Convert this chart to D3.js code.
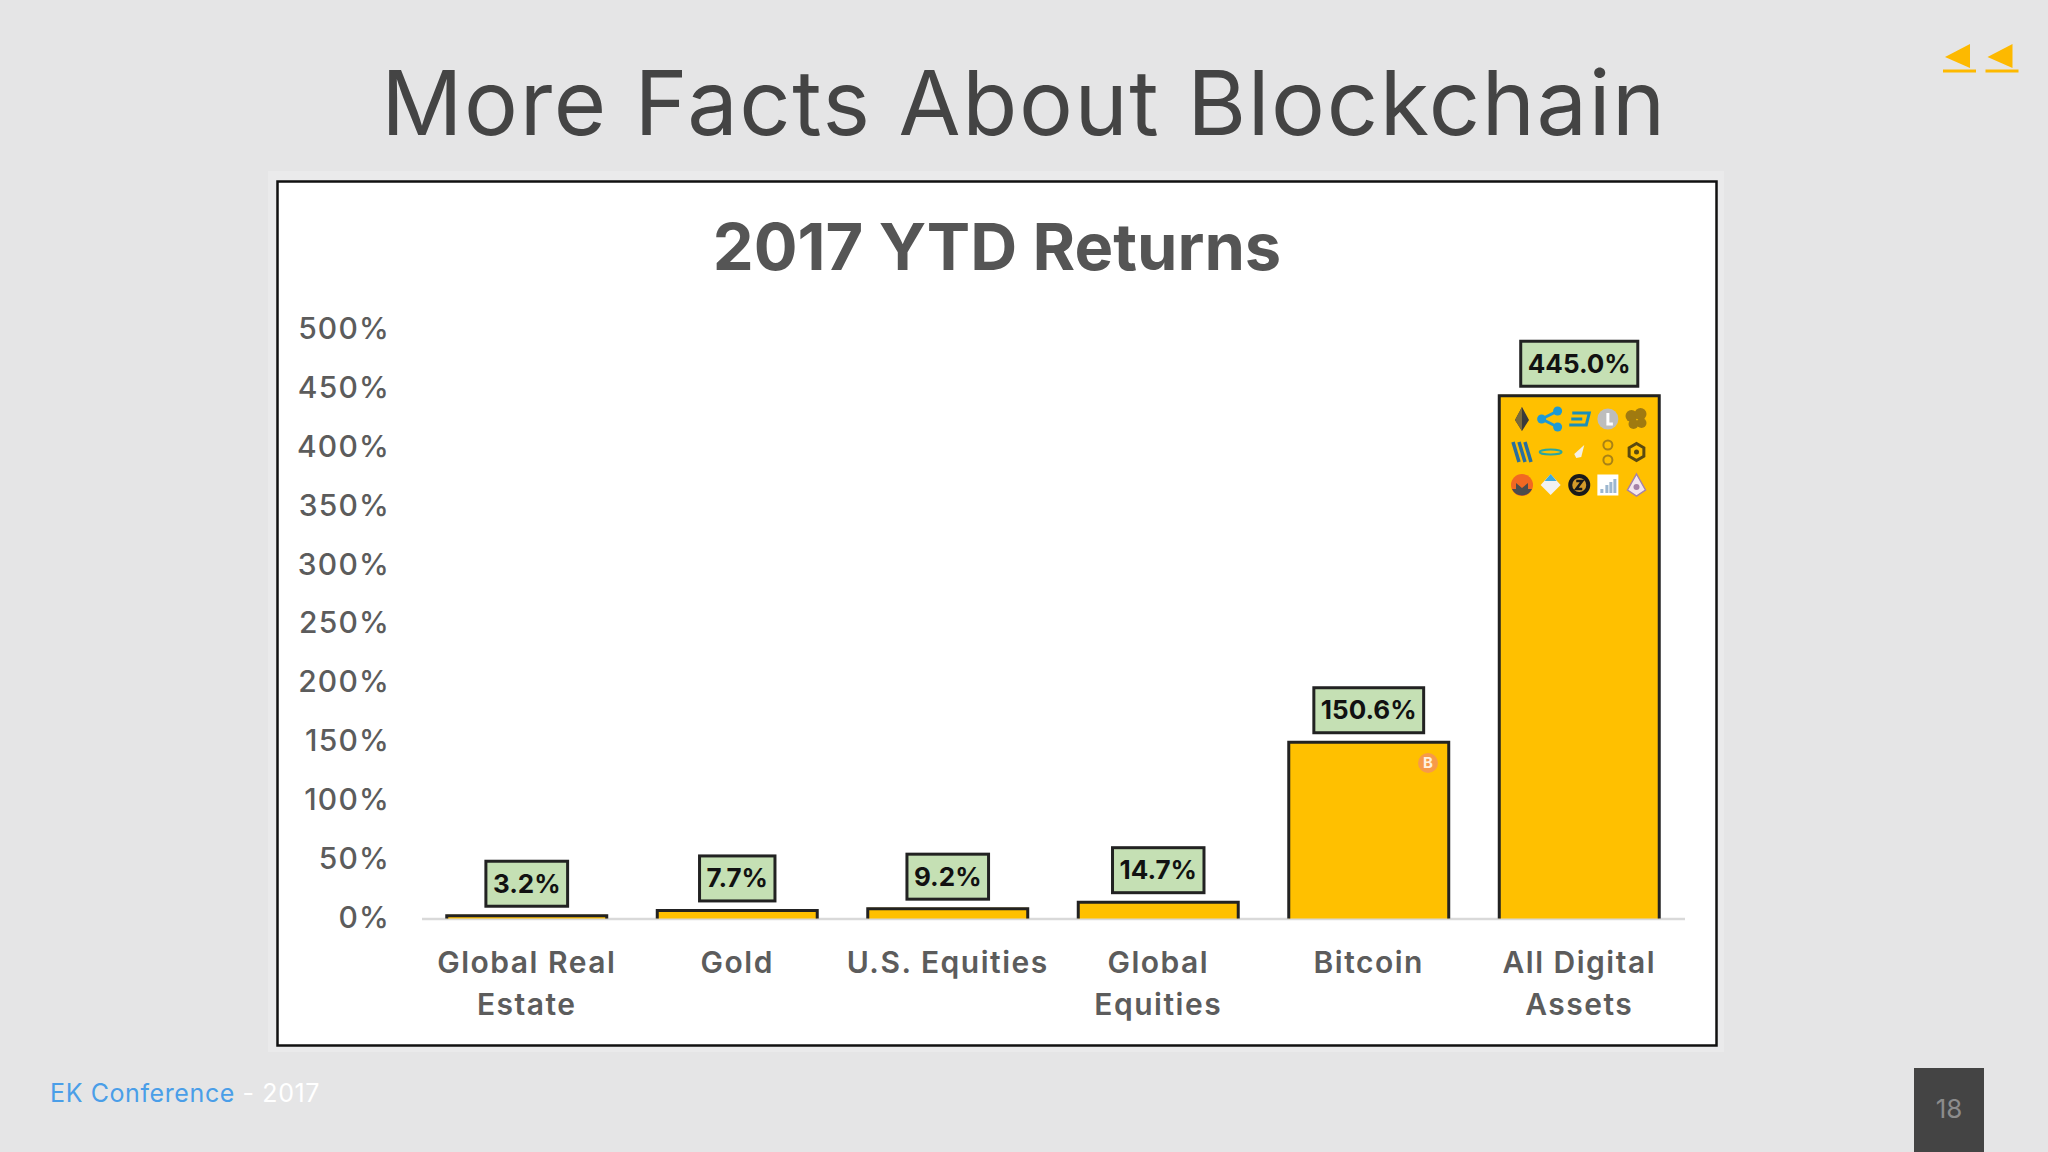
<!DOCTYPE html>
<html>
<head>
<meta charset="utf-8">
<style>
  html, body { margin: 0; padding: 0; background: #e5e5e6; overflow: hidden; }
  svg { display: block; }
  text { font-family: Inter, Lato, sans-serif; }
</style>
</head>
<body>
<svg id="slide"></svg>
<script src="https://d3js.org/d3.v7.min.js"></script>
<script>
var width = 2048, height = 1152;

var categories = ["Global Real Estate", "Gold", "U.S. Equities", "Global Equities", "Bitcoin", "All Digital Assets"];
var categoryLines = [["Global Real", "Estate"], ["Gold"], ["U.S. Equities"], ["Global", "Equities"], ["Bitcoin"], ["All Digital", "Assets"]];
var returns = [3.2, 7.7, 9.2, 14.7, 150.6, 445.0];
var yTicks = [0, 50, 100, 150, 200, 250, 300, 350, 400, 450, 500];
var iconRows = [
  ["eth", "xrp", "dash", "ltc", "nem"],
  ["steem", "lisk", "rocket", "gnt", "hex"],
  ["xmr", "ice", "zec", "chart", "pear"]
];

var svg = d3.select("#slide").attr("width", width).attr("height", height);

svg.append("rect").attr("width", width).attr("height", height).attr("fill", "#e5e5e6");

// slide furniture
svg.append("text")
  .attr("x", 1024).attr("y", 135)
  .attr("text-anchor", "middle")
  .attr("font-size", 90)
  .attr("letter-spacing", 1.6)
  .attr("fill", "#444444")
  .text("More Facts About Blockchain");

[0, 42.5].forEach(function (dx) {
  var nav = svg.append("g").attr("transform", "translate(" + dx + ",0)");
  nav.append("path").attr("d", "M1945,57L1970,44L1970,68Z").attr("fill", "#fdb900");
  nav.append("rect").attr("x", 1943).attr("y", 69.5).attr("width", 33).attr("height", 3).attr("fill", "#fdb900");
});

var footer = svg.append("text").attr("x", 50).attr("y", 1102).attr("font-size", 25).attr("letter-spacing", 0.6);
footer.append("tspan").attr("fill", "#4a9ee8").text("EK Conference");
footer.append("tspan").attr("fill", "#ffffff").text(" - 2017");

svg.append("rect").attr("x", 1914).attr("y", 1068).attr("width", 70).attr("height", 84).attr("fill", "#444444");
svg.append("text")
  .attr("x", 1949).attr("y", 1118)
  .attr("text-anchor", "middle")
  .attr("font-size", 26)
  .attr("fill", "#8c8c8c")
  .text("18");

// picture frame
svg.append("rect").attr("x", 268).attr("y", 171).attr("width", 1456).attr("height", 881).attr("fill", "#eaeaeb");
svg.append("rect").attr("x", 277.5).attr("y", 181.5).attr("width", 1439).attr("height", 864)
  .attr("fill", "#ffffff").attr("stroke", "#111111").attr("stroke-width", 2.5);

svg.append("text")
  .attr("x", 997).attr("y", 270)
  .attr("text-anchor", "middle")
  .attr("font-size", 65)
  .attr("font-weight", 700)
  .attr("fill", "#555555")
  .text("2017 YTD Returns");

var x = d3.scaleBand()
  .domain(categories)
  .range([421.5, 1684.5])
  .paddingInner(0.24)
  .paddingOuter(0.12);

var y = d3.scaleLinear()
  .domain([0, 500])
  .range([918.5, 330]);

var yAxis = svg.append("g")
  .attr("transform", "translate(390,0)")
  .call(d3.axisLeft(y).tickValues(yTicks).tickSize(0).tickPadding(0).tickFormat(function (d) { return d + "%"; }));
yAxis.select(".domain").remove();
yAxis.selectAll("text")
  .attr("y", -1)
  .attr("font-size", 30)
  .attr("font-weight", 500)
  .attr("font-family", "Inter")
  .attr("letter-spacing", 1.2)
  .attr("fill", "#5c5c5c");

var xAxis = svg.append("g")
  .attr("transform", "translate(0," + y(0) + ")")
  .call(d3.axisBottom(x).tickSize(0).tickFormat(""));
xAxis.select(".domain").attr("stroke", "#d9d9d9").attr("stroke-width", 2.5);
xAxis.selectAll(".tick text").remove();

xAxis.selectAll(".tick").each(function (d, i) {
  var label = d3.select(this).append("text")
    .attr("text-anchor", "middle")
    .attr("font-size", 30)
    .attr("font-weight", 600)
    .attr("font-family", "Inter")
    .attr("letter-spacing", 1.5)
    .attr("fill", "#5c5c5c");
  categoryLines[i].forEach(function (line, j) {
    label.append("tspan").attr("x", 0).attr("y", 54 + j * 42).text(line);
  });
});

// bars: open at the bottom, the outline stops at the axis
var bars = svg.selectAll(".bar")
  .data(returns)
  .enter().append("g")
  .attr("class", "bar");

bars.append("rect")
  .attr("x", function (d, i) { return x(categories[i]); })
  .attr("y", function (d) { return y(d); })
  .attr("width", x.bandwidth())
  .attr("height", function (d) { return y(0) - y(d); })
  .attr("fill", "#ffc000");

bars.append("path")
  .attr("fill", "none")
  .attr("stroke", "#222222")
  .attr("stroke-width", 3)
  .attr("d", function (d, i) {
    var x0 = x(categories[i]), x1 = x0 + x.bandwidth();
    return "M" + x0 + "," + y(0) + "V" + (y(d) + 1) + "H" + x1 + "V" + y(0);
  });

// value labels: box is sized from the text
var labels = svg.selectAll(".value")
  .data(returns)
  .enter().append("g")
  .attr("class", "value")
  .attr("transform", function (d, i) {
    return "translate(" + (x(categories[i]) + x.bandwidth() / 2) + "," + (y(d) - 31) + ")";
  });

var labelBox = labels.append("rect");
var labelText = labels.append("text")
  .attr("text-anchor", "middle")
  .attr("y", 9)
  .attr("font-size", 26)
  .attr("font-weight", 700)
  .attr("fill", "#111111")
  .text(function (d) { return d.toFixed(1) + "%"; });

labelText.each(function (d, i) {
  var w = this.getComputedTextLength() + 14;
  d3.select(labelBox.nodes()[i])
    .attr("x", -w / 2).attr("y", -22.5)
    .attr("width", w).attr("height", 45)
    .attr("fill", "#c5e0b4")
    .attr("stroke", "#222222")
    .attr("stroke-width", 3);
});

// coin logos, simplified
var iconDraw = {
  eth: function (g) {
    g.append("path").attr("d", "M0,-12L7,1L0,12L-7,1Z").attr("fill", "#3a3a3a");
    g.append("path").attr("d", "M0,-12L0,12L-7,1Z").attr("fill", "#7a6a3a");
  },
  xrp: function (g) {
    g.append("path").attr("d", "M-9,0L7,-8M-9,0L7,8").attr("stroke", "#1d9ad6").attr("stroke-width", 3).attr("fill", "none");
    [[-9, 0], [7, -8], [7, 8]].forEach(function (c) {
      g.append("circle").attr("cx", c[0]).attr("cy", c[1]).attr("r", 4.5).attr("fill", "#1d9ad6");
    });
  },
  dash: function (g) {
    g.append("path").attr("d", "M-7,-6H10L7,6H-10").attr("fill", "none").attr("stroke", "#1c8fb8").attr("stroke-width", 3);
    g.append("path").attr("d", "M-8,0H3").attr("stroke", "#1c8fb8").attr("stroke-width", 3);
  },
  ltc: function (g) {
    g.append("circle").attr("r", 10.5).attr("fill", "#bdbdbd");
    g.append("path").attr("d", "M0,-6V5H5").attr("fill", "none").attr("stroke", "#ffffff").attr("stroke-width", 3);
  },
  nem: function (g) {
    [[-5, -3, 6], [4, -5, 6], [5, 4, 5], [-3, 5, 5]].forEach(function (c) {
      g.append("circle").attr("cx", c[0]).attr("cy", c[1]).attr("r", c[2]).attr("fill", "#a07a10");
    });
  },
  steem: function (g) {
    [-6, 0, 6].forEach(function (dx) {
      g.append("path").attr("d", "M" + (dx - 3) + ",-10L" + (dx + 3) + ",10")
        .attr("stroke", "#2a6f9e").attr("stroke-width", 3.5);
    });
  },
  lisk: function (g) {
    g.append("ellipse").attr("rx", 11).attr("ry", 2.5).attr("fill", "none").attr("stroke", "#2aa6a0").attr("stroke-width", 2);
  },
  rocket: function (g) {
    g.append("path").attr("d", "M5,-7L2,5L-3,6L-5,2Z").attr("fill", "#f4f0e6");
  },
  gnt: function (g) {
    g.append("circle").attr("cy", -7).attr("r", 4.5).attr("fill", "none").attr("stroke", "#a98215").attr("stroke-width", 2);
    g.append("circle").attr("cy", 8).attr("r", 4.5).attr("fill", "none").attr("stroke", "#a98215").attr("stroke-width", 2);
  },
  hex: function (g) {
    var hex = d3.range(6).map(function (k) {
      var a = Math.PI / 3 * k + Math.PI / 6;
      return [8.5 * Math.cos(a), 8.5 * Math.sin(a)];
    });
    g.append("path").attr("d", d3.line()(hex) + "Z").attr("fill", "none").attr("stroke", "#5a4a10").attr("stroke-width", 3);
    g.append("circle").attr("r", 2.5).attr("fill", "#5a4a10");
  },
  xmr: function (g) {
    g.append("circle").attr("r", 11).attr("fill", "#f26822");
    g.append("path").attr("d", "M-10,4L-6,4L-6,-2L0,3L6,-2L6,4L10,4A11,11,0,0,1,-10,4Z").attr("fill", "#4c4c4c");
  },
  ice: function (g) {
    g.append("path").attr("d", "M0,-11L10,0L0,10L-10,0Z").attr("fill", "#f2f2f2");
    g.append("path").attr("d", "M0,-11L6,-4H-6Z").attr("fill", "#3fa9dc");
  },
  zec: function (g) {
    g.append("circle").attr("r", 11).attr("fill", "#1a1a1a");
    g.append("circle").attr("r", 7).attr("fill", "#d49b2a");
    g.append("path").attr("d", "M-3,-4H3L-3,4H3").attr("fill", "none").attr("stroke", "#1a1a1a").attr("stroke-width", 2.5);
  },
  chart: function (g) {
    g.append("rect").attr("x", -10.5).attr("y", -10.5).attr("width", 21).attr("height", 21).attr("fill", "#ffffff");
    [[-6, 4], [-1, 0], [3, -3], [7, -6]].forEach(function (b) {
      g.append("rect").attr("x", b[0] - 1.5).attr("y", b[1]).attr("width", 3).attr("height", 8 - b[1]).attr("fill", "#9db7cf");
    });
  },
  pear: function (g) {
    g.append("path").attr("d", "M0,-11L9,5L0,11L-9,5Z").attr("fill", "#f3e6ee").attr("stroke", "#a582a8").attr("stroke-width", 1.5);
    g.append("circle").attr("cy", 2).attr("r", 3).attr("fill", "#a582a8");
  }
};

var iconX = d3.scalePoint().domain(d3.range(5)).range([1522, 1636.5]);
var iconY = d3.scalePoint().domain(d3.range(3)).range([419, 485]);

iconRows.forEach(function (row, r) {
  row.forEach(function (name, c) {
    var g = svg.append("g").attr("transform", "translate(" + iconX(c) + "," + iconY(r) + ")");
    iconDraw[name](g);
  });
});

var btc = svg.append("g").attr("transform", "translate(1428,763)");
btc.append("circle").attr("r", 10).attr("fill", "#f79a4a");
btc.append("text").attr("text-anchor", "middle").attr("y", 5).attr("font-size", 15).attr("font-weight", 700).attr("fill", "#fff2dd").text("B");
</script>
</body>
</html>
